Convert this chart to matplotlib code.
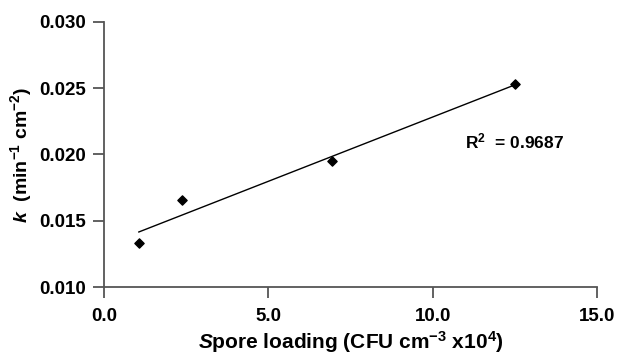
import numpy as np
from matplotlib import pyplot as plt

plt.rcParams['font.family'] = ['Liberation Sans', 'DejaVu Sans']
plt.rcParams['mathtext.fontset'] = 'custom'
plt.rcParams['mathtext.rm'] = 'Liberation Sans:bold'
plt.rcParams['mathtext.bf'] = 'Liberation Sans:bold'
plt.rcParams['mathtext.it'] = 'Liberation Sans:bold:italic'

# Spore loading (CFU cm^-3 x10^4) vs rate constant k
loading = [1.06, 2.38, 6.95, 12.49]
k_values = [0.0133, 0.0166, 0.0195, 0.0253]
x_ticks = [0.0, 5.0, 10.0, 15.0]
y_ticks = [0.010, 0.015, 0.020, 0.025, 0.030]

m, b = np.polyfit(loading, k_values, 1)

fig = plt.figure(figsize=(6.18, 3.58), dpi=100)
ax = fig.add_axes([104/618, 1 - 287/358, 493/618, 265/358])

line_x = np.array([min(loading), max(loading)])
ax.plot(line_x, m*line_x + b, color='k', lw=1.0)
ax.scatter(loading, k_values, c='k', marker='D', s=22, zorder=3)

ax.set_xlim(0, 15)
ax.set_ylim(0.010, 0.030)
ax.set_xticks(x_ticks)
ax.set_xticklabels(['%.1f' % t for t in x_ticks])
ax.set_yticks(y_ticks)
ax.set_yticklabels(['%.3f' % t for t in y_ticks])

for s in ['top', 'right']:
    ax.spines[s].set_visible(False)
for s in ['left', 'bottom']:
    ax.spines[s].set_color('#555555')
    ax.spines[s].set_linewidth(1.3)
ax.tick_params(direction='out', length=8, width=1.3, color='#555555',
               labelsize=13.5)
ax.tick_params(axis='x', pad=7)
ax.tick_params(axis='y', pad=5)
for lab in ax.get_xticklabels() + ax.get_yticklabels():
    lab.set_fontweight('bold')

ax.set_xlabel(r'$\mathit{S}$pore loading (CFU cm$^{\mathrm{-3}}$ x10$^{\mathrm{4}}$)',
              fontsize=15, fontweight='bold', labelpad=3)
ax.set_ylabel(r'$\mathit{k}$  (min$^{\mathrm{-1}}$ cm$^{\mathrm{-2}}$)',
              fontsize=14, fontweight='bold', labelpad=4)

ax.text(10.98, 0.0210, r'R$^{\mathrm{2}}$  = 0.9687', fontsize=12.5,
        fontweight='bold', va='center', ha='left')

plt.savefig('out.png', dpi=100)
